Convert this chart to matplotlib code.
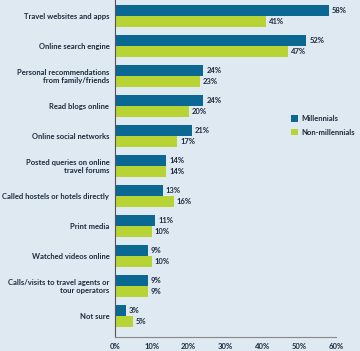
import matplotlib.pyplot as plt
import numpy as np

plt.rcParams["font.family"] = ["Lato", "DejaVu Sans"]

categories = [
    "Travel websites and apps",
    "Online search engine",
    "Personal recommendations\nfrom family/friends",
    "Read blogs online",
    "Online social networks",
    "Posted queries on online\ntravel forums",
    "Called hostels or hotels directly",
    "Print media",
    "Watched videos online",
    "Calls/visits to travel agents or\ntour operators",
    "Not sure",
]
millennials = [58, 52, 24, 24, 21, 14, 13, 11, 9, 9, 3]
non_millennials = [41, 47, 23, 20, 17, 14, 16, 10, 10, 9, 5]
xticks = [0, 10, 20, 30, 40, 50, 60]

BG = "#dfe9f2"
BLUE = "#0b6892"
GREEN = "#b7d334"
TXT = "#1c2a3c"
FS = 5.5

fig = plt.figure(figsize=(3.6, 3.51), dpi=100, facecolor=BG)
ax = fig.add_axes([0.319, 0.040, 0.614, 0.96])
ax.set_facecolor(BG)

y = np.arange(len(categories))
h = 0.38
b1 = ax.barh(y - h / 2, millennials, height=h, color=BLUE, label="Millennials")
b2 = ax.barh(y + h / 2, non_millennials, height=h, color=GREEN, label="Non-millennials")

for bars, vals in [(b1, millennials), (b2, non_millennials)]:
    for bar, v in zip(bars, vals):
        ax.text(bar.get_width() + 0.8, bar.get_y() + bar.get_height() / 2, f"{v}%",
                va="center", ha="left", fontsize=FS, fontweight="bold", color=TXT)

ax.set_xlim(0, 60)
ax.set_ylim(10.7, -0.53)
ax.set_yticks(y)
ax.set_yticklabels(categories, fontsize=FS, fontweight="bold", color=TXT,
                   linespacing=1.1)
ax.set_xticks(xticks)
ax.set_xticklabels([f"{t}%" for t in xticks], fontsize=FS, fontweight="bold", color=TXT)
ax.tick_params(axis="both", length=0, pad=4)

for s in ["top", "right"]:
    ax.spines[s].set_visible(False)
ax.spines["left"].set_color("#555555")
ax.spines["bottom"].set_color("#888888")
ax.spines["left"].set_linewidth(0.8)
ax.spines["bottom"].set_linewidth(0.8)

leg = ax.legend(loc="upper left", bbox_to_anchor=(0.765, 0.68), frameon=False,
                prop={"size": FS, "weight": "bold"}, handlelength=1.0,
                handleheight=1.0, handletextpad=0.4, labelspacing=0.9)
for t in leg.get_texts():
    t.set_color(TXT)

fig.savefig("out.png", dpi=100, facecolor=BG)
